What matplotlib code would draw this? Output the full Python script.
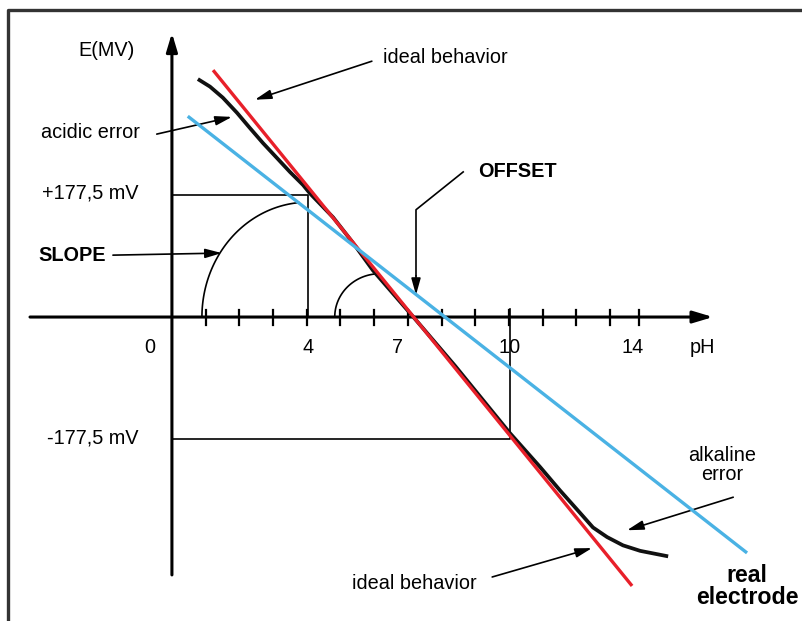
"""pH electrode response: ideal vs real electrode, slope and offset sketch."""
import matplotlib
matplotlib.use("Agg")
import matplotlib.pyplot as plt
import numpy as np

plt.rcParams["font.family"] = ["Liberation Sans", "DejaVu Sans"]

# --- data (pH units on x, mV on y) ---
ideal_ph = [1.22, 13.65]
ideal_mv = [359, -391]

offset_ph = [0.47, 17.06]          # shifted / low-slope electrode (blue)
offset_mv = [292, -343]

real_ph = [0.77, 1.13, 1.51, 1.93, 2.31, 2.70, 3.12, 3.50, 3.89, 4.09,
           4.78, 5.37, 5.96, 7.18, 8.40, 10.03, 10.92, 11.51, 12.11,
           12.49, 12.91, 13.38, 13.89, 14.72]
real_mv = [346, 335, 319, 297, 275, 253, 231, 211, 192, 180,
           145, 108, 68, -1, -71, -169, -218, -252, -285,
           -306, -320, -332, -340, -348]

ref_mv = 177.5
ref_ph_hi = 4.04                   # pH where ideal gives +177.5 mV
ref_ph_lo = 10.03                  # pH where ideal gives -177.5 mV

tick_ph = [1, 2, 3, 4, 5, 6, 7, 8, 9, 10, 11, 12, 13, 13.85]
label_ph = [-0.65, 4.04, 6.68, 10.03, 13.68]
label_txt = ["0", "4", "7", "10", "14"]

RED = "#e8202a"
BLUE = "#4ab2e4"
FS = 14.3

fig = plt.figure(figsize=(8.03, 6.21), dpi=100)
ax = fig.add_axes([0, 0, 1, 1])
ax.set_xlim(-5.10, 18.72)
ax.set_ylim(-442, 461)
ax.axis("off")

# outer frame (only left/top visible)
ax.plot([8 / 803, 8 / 803, 1.0], [0.0, 1 - 10 / 621, 1 - 10 / 621],
        transform=ax.transAxes, color="#333333", lw=2.4, solid_capstyle="butt")

# axes with arrows
ax.annotate("", xy=(0, 413), xytext=(0, -375),
            arrowprops=dict(arrowstyle="-|>,head_length=1.1,head_width=0.33",
                            lw=2.2, color="black", mutation_scale=10,
                            shrinkA=0, shrinkB=0))
ax.annotate("", xy=(16.05, 0), xytext=(-4.21, 0),
            arrowprops=dict(arrowstyle="-|>,head_length=1.2,head_width=0.36",
                            lw=2.2, color="black", mutation_scale=10,
                            shrinkA=0, shrinkB=0))
for t in tick_ph:
    ax.plot([t, t], [10, -12], color="black", lw=1.6)

# reference lines for +-177.5 mV
thin = dict(color="black", lw=1.2)
ax.plot([0, ref_ph_hi, ref_ph_hi], [ref_mv, ref_mv, 0], **thin)
ax.plot([0, ref_ph_lo, ref_ph_lo], [-ref_mv, -ref_mv, 12], **thin)

# slope arcs (quarter ellipses sitting on the pH axis)
t = np.radians(np.linspace(95, 180, 60))
ax.plot(ref_ph_hi + 3.15 * np.cos(t), 167 * np.sin(t), **thin)
ax.plot(6.17 + 1.34 * np.cos(t), 63 * np.sin(t), **thin)

# curves
ax.plot(real_ph, real_mv, color="#111111", lw=2.7, solid_capstyle="butt",
        solid_joinstyle="round", zorder=3)
ax.plot(ideal_ph, ideal_mv, color=RED, lw=2.4, solid_capstyle="butt", zorder=4)
ax.plot(offset_ph, offset_mv, color=BLUE, lw=2.4, solid_capstyle="butt", zorder=5)

# labels
ax.text(-1.93, 387, "E(MV)", fontsize=FS, ha="center", va="center")
for x, s in zip(label_ph, label_txt):
    ax.text(x, -45, s, fontsize=FS, ha="center", va="center")
ax.text(15.73, -45, "pH", fontsize=FS, ha="center", va="center")
ax.text(-2.43, 180, "+177,5 mV", fontsize=FS, ha="center", va="center")
ax.text(-2.34, -176, "-177,5 mV", fontsize=FS, ha="center", va="center")
ax.text(-2.43, 269, "acidic error", fontsize=FS, ha="center", va="center")
ax.text(-2.97, 90, "SLOPE", fontsize=FS, ha="center", va="center", fontweight="bold")
ax.text(10.24, 212, "OFFSET", fontsize=FS, ha="center", va="center", fontweight="bold")
ax.text(8.12, 377, "ideal behavior", fontsize=FS, ha="center", va="center")
ax.text(7.2, -387, "ideal behavior", fontsize=FS, ha="center", va="center")
ax.text(16.32, -215, "alkaline\nerror", fontsize=FS, ha="center", va="center",
        linespacing=1.0)
ax.text(17.06, -392, "real\nelectrode", fontsize=16.7, ha="center", va="center",
        fontweight="bold", linespacing=0.95)

# annotation arrows (tail -> head)
arrow = dict(arrowstyle="-|>,head_length=1.0,head_width=0.28", lw=1.2,
             color="black", mutation_scale=10, shrinkA=0, shrinkB=0)
for tail, head in [((5.93, 372), (2.46, 316)),
                   ((-0.45, 266), (1.78, 291)),
                   ((-1.75, 90), (1.48, 93)),
                   ((16.65, -262), (13.5, -310)),
                   ((9.5, -378), (12.46, -336))]:
    ax.annotate("", xy=head, xytext=tail, arrowprops=arrow)
ax.plot([8.64, 7.24, 7.24], [211, 156, 60], color="black", lw=1.2)
ax.annotate("", xy=(7.24, 32), xytext=(7.24, 60), arrowprops=arrow)

fig.savefig("out.png", dpi=100)
